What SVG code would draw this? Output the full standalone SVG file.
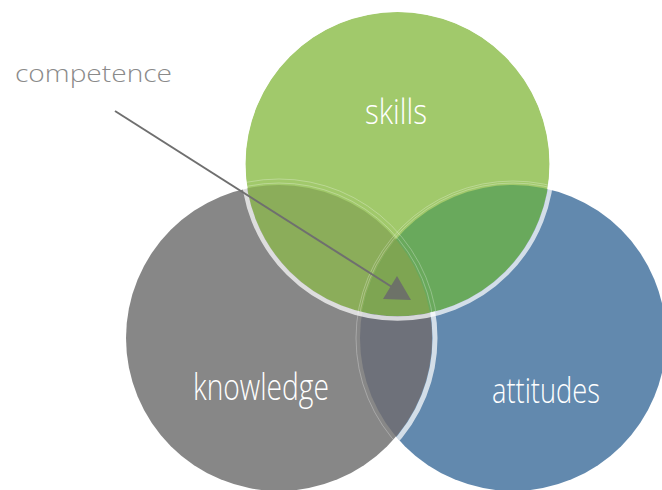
<svg xmlns="http://www.w3.org/2000/svg" width="662" height="490" viewBox="0 0 662 490">
<style>
.lbl{font-family:"Open Sans","Liberation Sans",sans-serif;font-weight:300;fill:#ffffff}
.ring{fill:none;stroke:#ffffff;stroke-opacity:0.72}
.faint{fill:none;stroke:#ffffff;stroke-opacity:0.35;stroke-width:0.8}
</style>
<defs>
<clipPath id="cK"><circle cx="279" cy="338" r="153"/></clipPath>
<clipPath id="cA"><circle cx="513" cy="338" r="153"/></clipPath>
<clipPath id="cS"><circle cx="397.5" cy="164" r="152"/></clipPath>
</defs>
<g id="attitudes">
<circle cx="513" cy="338" r="153" fill="#6289ae"/>
<text class="lbl" x="492" y="403" font-size="34" textLength="108" lengthAdjust="spacingAndGlyphs">attitudes</text>
</g>
<g id="knowledge">
<circle cx="279" cy="338" r="153" fill="#878787"/>
<g clip-path="url(#cK)"><circle cx="513" cy="338" r="153" fill="#6e717a"/></g>
<g clip-path="url(#cA)"><circle class="ring" cx="279" cy="338" r="156" stroke-width="5"/></g>
<g clip-path="url(#cK)"><circle class="faint" cx="513" cy="338" r="157"/></g>
<text class="lbl" x="193" y="400" font-size="37" textLength="136" lengthAdjust="spacingAndGlyphs">knowledge</text>
</g>
<g id="skills">
<circle cx="397.5" cy="164" r="152" fill="#a1c96b"/>
<g clip-path="url(#cK)"><circle cx="397.5" cy="164" r="152" fill="#8bad5a"/></g>
<g clip-path="url(#cA)"><circle cx="397.5" cy="164" r="152" fill="#69a95c"/></g>
<g clip-path="url(#cK)"><g clip-path="url(#cA)"><circle cx="397.5" cy="164" r="152" fill="#7ea552"/></g></g>
<g clip-path="url(#cS)">
<circle class="faint" cx="279" cy="338" r="159"/>
<circle class="faint" cx="513" cy="338" r="157"/>
<circle class="faint" cx="279" cy="338" r="155"/>
<circle class="faint" cx="513" cy="338" r="155"/>
</g>
<circle class="ring" cx="397.5" cy="164" r="154.5" stroke-width="4.5"/>
<text class="lbl" x="365" y="124" font-size="34" textLength="62" lengthAdjust="spacingAndGlyphs">skills</text>
</g>
<g id="connectors">
<line x1="115" y1="111" x2="392" y2="287" stroke="#6f6f6f" stroke-width="2"/>
<polygon points="397,276 383,299 411,300" fill="#6d7268"/>
</g>
<g id="competence">
<text x="15" y="82" font-family="Open Sans, Liberation Sans, sans-serif" font-weight="300" font-size="24" fill="#8a8a8a" textLength="157" lengthAdjust="spacingAndGlyphs">competence</text>
</g>
</svg>
